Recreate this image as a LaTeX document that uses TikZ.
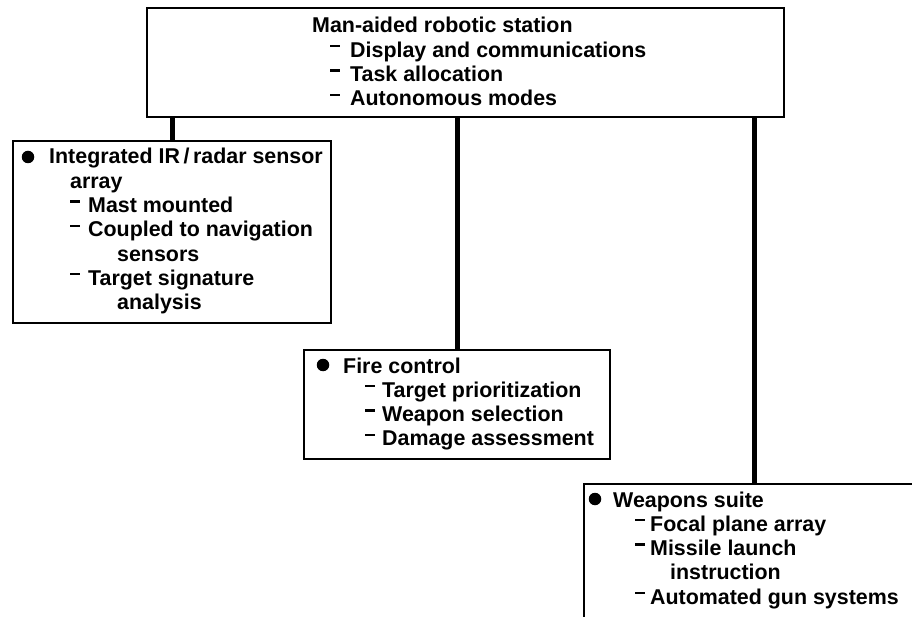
\documentclass[tikz,border=0pt]{standalone}
\usepackage{fontspec}
\setmainfont{Liberation Sans}
\newcommand\Ln[2]{\hbox{\hskip#1pt\relax #2}}
\newcommand\Dl[3]{\hbox{\hskip#1pt\relax\rule[10pt]{10pt}{2.2pt}\hskip\dimexpr#2pt-#1pt-10pt\relax #3}}
\begin{document}
\begin{tikzpicture}[x=1pt,y=-1pt,
  box/.style={draw,line width=2.4pt,rectangle,inner sep=0pt,anchor=north west},
  txt/.style={anchor=base west,inner sep=0pt,font=\fontsize{21.4}{24.3}\selectfont\bfseries},
  conn/.style={line width=5pt},
  bul/.style={circle,fill,draw=none,inner sep=0pt,minimum size=12.5pt}]
\useasboundingbox (0,0) rectangle (912,617);
% boxes
\node[box,minimum width=637pt,minimum height=109pt] (top) at (146,7) {};
\node[box,minimum width=318pt,minimum height=182pt] (sens) at (12,140) {};
\node[box,minimum width=306pt,minimum height=109pt] (fire) at (303,349) {};
\node[box,minimum width=340pt,minimum height=150pt] (weap) at (583,483) {};
% connectors
\draw[conn] (top.south -| sens.north) -- (sens.north);
\draw[conn] (top.south -| fire.north) -- (fire.north);
\draw[conn] (top.south -| weap.north) -- (weap.north);
% texts
\node[txt] (toptext) at (312,33) {\vtop{%
  \Ln{0}{Man-aided robotic station}
  \Dl{18}{38}{Display and communications}
  \Dl{18}{38}{Task allocation}
  \Dl{18}{38}{Autonomous modes}}};
\node[bul] (b1) at (28,157) {};
\node[txt] (senstext) at (49,164) {\vtop{%
  \Ln{0}{Integrated IR\,/\,radar sensor}
  \Ln{21}{array}
  \Dl{21}{39}{Mast mounted}
  \Dl{21}{39}{Coupled to navigation}
  \Ln{68}{sensors}
  \Dl{21}{39}{Target signature}
  \Ln{68}{analysis}}};
\node[bul] (b2) at (323,365) {};
\node[txt] (firetext) at (343,373) {\vtop{%
  \Ln{0}{Fire control}
  \Dl{22}{39}{Target prioritization}
  \Dl{22}{39}{Weapon selection}
  \Dl{22}{39}{Damage assessment}}};
\node[bul] (b3) at (595,499) {};
\node[txt] (weaptext) at (613,507) {\vtop{%
  \Ln{0}{Weapons suite}
  \Dl{22}{37}{Focal plane array}
  \Dl{22}{37}{Missile launch}
  \Ln{57}{instruction}
  \Dl{22}{37}{Automated gun systems}}};
\end{tikzpicture}
\end{document}
